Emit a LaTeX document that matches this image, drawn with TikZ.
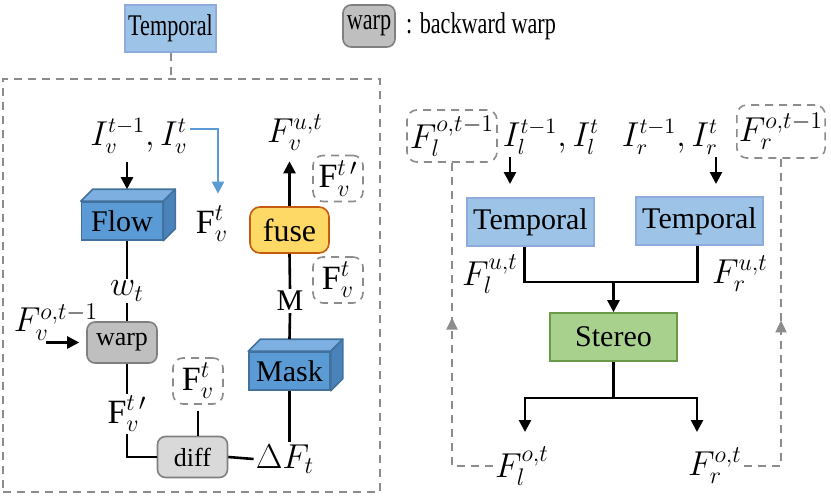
\documentclass[tikz,border=0pt]{standalone}
\usepackage{fontspec}
\setmainfont{Liberation Serif}
\usetikzlibrary{arrows.meta,positioning,decorations.markings}
\usepackage{xcolor}

\definecolor{tempfill}{HTML}{9DC3E6}
\definecolor{tempdraw}{HTML}{8FAADC}
\definecolor{cubefill}{HTML}{5B9BD5}
\definecolor{cubetop}{HTML}{7DAFE0}
\definecolor{cubeside}{HTML}{4A82BA}
\definecolor{cubedraw}{HTML}{41719C}
\definecolor{fusefill}{HTML}{FFD966}
\definecolor{fusedraw}{HTML}{C55A11}
\definecolor{warpfill}{HTML}{BFBFBF}
\definecolor{difffill}{HTML}{D9D9D9}
\definecolor{boxgray}{HTML}{7F7F7F}
\definecolor{dashgray}{HTML}{8C8C8C}
\definecolor{stereofill}{HTML}{A9D18E}
\definecolor{stereodraw}{HTML}{6A9A48}
\definecolor{skyline}{HTML}{5B9BD5}

\newcommand{\squeeze}[1]{\scalebox{0.74}[1]{#1}}
% top and side faces of a block
\newcommand{\cubefaces}[1]{%
  \filldraw[fill=cubetop, draw=cubedraw, thick, line join=round]
    (#1.north west) -- ++(6pt,6pt) -- ([shift={(6pt,6pt)}]#1.north east) -- (#1.north east) -- cycle;
  \filldraw[fill=cubeside, draw=cubedraw, thick, line join=round]
    (#1.north east) -- ++(6pt,6pt) -- ([shift={(6pt,6pt)}]#1.south east) -- (#1.south east) -- cycle;
}

\begin{document}
\begin{tikzpicture}[
    x=0.5pt, y=-0.5pt,
    font=\fontsize{15}{18}\selectfont,
    tempbox/.style={rectangle, draw=tempdraw, fill=tempfill, thick, minimum width=63.5pt, minimum height=24pt, inner sep=1pt},
    cubebox/.style={rectangle, draw=cubedraw, fill=cubefill, thick, minimum width=40.5pt, minimum height=19pt, inner sep=1pt},
    warpbox/.style={rectangle, rounded corners=4pt, draw=boxgray, fill=warpfill, thick, minimum width=35pt, minimum height=20.5pt, inner sep=1pt, font=\fontsize{13}{15}\selectfont},
    diffbox/.style={warpbox, fill=difffill},
    fusebox/.style={rectangle, rounded corners=5pt, draw=fusedraw, fill=fusefill, thick, minimum width=39.5pt, minimum height=23pt, inner sep=1pt, font=\fontsize{16}{18}\selectfont},
    stereobox/.style={rectangle, draw=stereodraw, fill=stereofill, thick, minimum width=63.5pt, minimum height=24pt, inner sep=1pt},
    dashbox/.style={rectangle, rounded corners=5pt, draw=dashgray, dash pattern=on 4pt off 3pt, thick, minimum width=25pt, minimum height=23pt, inner sep=1pt, font=\fontsize{17}{20}\selectfont},
    lab/.style={inner sep=1pt, font=\fontsize{17}{20}\selectfont},
    inlab/.style={inner sep=1pt, font=\fontsize{16}{19}\selectfont},
    line/.style={line width=1.3pt},
    arrow/.style={-{Triangle[length=6pt,width=6pt]}, line width=1.3pt},
    fback/.style={draw=dashgray, dash pattern=on 4pt off 3pt, line width=1pt},
    upmark/.style={postaction={decorate}, decoration={markings, mark=at position #1 with {\arrow[dashgray]{Triangle[length=6pt,width=5.5pt]}}}},
]
\useasboundingbox (0,0) rectangle (831,499);

% --- legend ---
\node[tempbox, minimum width=45.5pt, minimum height=23.5pt] (temptop) at (170.5,28.5) {\squeeze{Temporal}};
\node[warpbox, minimum width=26pt, minimum height=21pt, font=\fontsize{15}{18}\selectfont] (legwarp) at (369,26) {\squeeze{warp}};
\node[inner sep=1pt, right=4pt of legwarp] (legtext) {\squeeze{: backward warp}};

% --- temporal module ---
\node[draw=dashgray, dash pattern=on 4pt off 3pt, line width=1pt, minimum width=188.5pt, minimum height=206.5pt, inner sep=0pt] (frame) at (191.5,285.5) {};
\draw[fback] (temptop.south) -- (temptop.south |- frame.north);

\node[inlab] (Iv) at (139,136) {$I_v^{t-1},I_v^{t}$};
\node[cubebox] (flow) at (122,221) {Flow};
\cubefaces{flow}
\node[lab] (Fvt) at (212,224) {$\mathrm{F}_v^{t}$};
\node[lab] (wt) at (127,291) {$w_t$};
\node[warpbox] (warp) at (122,342.5) {warp};
\node[lab] (Fvo) at (56,322) {$F_v^{o,t-1}$};
\node[lab] (Fvp) at (127,414) {$\mathrm{F}_v^{t\,\prime}$};
\node[diffbox] (diff) at (192.5,457) {diff};
\node[dashbox] (Fvd) at (198,381) {$\mathrm{F}_v^{t}$};
\node[lab] (dF) at (285,459) {$\Delta F_t$};
\node[cubebox] (mask) at (289.5,371) {Mask};
\cubefaces{mask}
\node[lab, font=\fontsize{15}{18}\selectfont] (M) at (290,301) {M};
\node[dashbox] (Fvm) at (338,280) {$\mathrm{F}_v^{t}$};
\node[fusebox] (fuse) at (289.5,230) {fuse};
\node[lab] (Fvu) at (295,133) {$F_v^{u,t}$};
\node[dashbox] (Fvq) at (338,178.5) {$\mathrm{F}_v^{t\,\prime}$};

\draw[arrow] ([yshift=-3pt]Iv.south -| wt) -- ([yshift=6pt]flow.north -| wt);
\draw[arrow, skyline, line width=1pt] ([yshift=3.5pt]Iv.east) -| ([xshift=3pt,yshift=5pt]Fvt.north);
\draw[line] (flow.south -| wt) -- (wt.north);
\draw[line] (wt.south) -- (wt.south |- warp.north);
\draw[arrow] ([xshift=-20pt]warp.west) -- ([xshift=-3.5pt]warp.west);
\draw[line] (warp.south -| Fvp) -- (Fvp.north);
\draw[line] (Fvp.south) |- (diff.west);
\draw[line] ([yshift=-3pt]Fvd.south) -- (Fvd.south |- diff.north);
\draw[line] (diff.east) -- (dF.west);
\draw[line] (dF.north -| mask.south) -- (mask.south);
\draw[line] ([yshift=6pt]mask.north) -- (M.south);
\draw[line] (M.north) -- (fuse.south);
\draw[arrow] (fuse.north) -- ([yshift=-4pt]Fvu.south -| fuse.north);

% --- stereo part ---
\node[dashbox, minimum width=45pt, minimum height=26pt] (Flo1) at (452,136) {$F_l^{o,t-1}$};
\node[inlab] (Il) at (551,137) {$I_l^{t-1},I_l^{t}$};
\node[inlab] (Ir) at (670,137) {$I_r^{t-1},I_r^{t}$};
\node[dashbox, minimum width=44pt, minimum height=26.5pt] (Fro1) at (781,131.5) {$F_r^{o,t-1}$};
\node[tempbox] (templ) at (530.5,222) {Temporal};
\node[tempbox] (tempr) at (699.5,221) {Temporal};
\node[lab] (Flu) at (490,274) {$F_l^{u,t}$};
\node[lab] (Fru) at (740,274) {$F_r^{u,t}$};
\node[stereobox] (stereo) at (613.5,337) {Stereo};
\node[lab] (Flo) at (522,466) {$F_l^{o,t}$};
\node[lab] (Fro) at (715,466) {$F_r^{o,t}$};
\coordinate (join) at (613.5,282);
\coordinate (split) at (613.5,398);
\coordinate (outl) at (525,432);
\coordinate (outr) at (697,432);

\draw[arrow] ([xshift=-20.5pt]Il.south) -- ++(0,-13.5pt);
\draw[arrow] ([xshift=23pt]Ir.south) -- ++(0,-13.5pt);
\draw[line] ([xshift=-3pt]templ.south) |- (join) -| ([xshift=-1pt]tempr.south);
\draw[arrow] (join) -- (stereo.north);
\draw[line] (stereo.south) -- (split);
\draw[arrow] (split) -| (outl);
\draw[arrow] (split) -| (outr);

\draw[fback, upmark=0.55] (Flo.west) -| (Flo1.south);
\draw[fback, upmark=0.53] (Fro.east) -| (Fro1.south);
\end{tikzpicture}
\end{document}
